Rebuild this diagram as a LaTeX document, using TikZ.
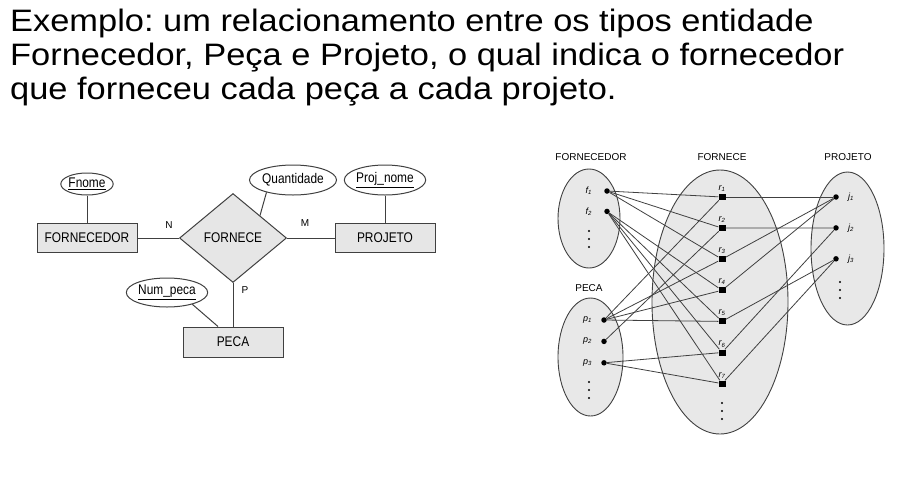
\documentclass[tikz,border=0pt]{standalone}
\usepackage{fontspec}
\setmainfont{Liberation Sans}
\newfontfamily\titlefont[FakeStretch=1.11]{Liberation Sans}
\newfontfamily\erfont[FakeStretch=0.85]{Liberation Sans}
\usepackage{tikz}
\usetikzlibrary{arrows.meta,positioning,shapes.geometric}
\definecolor{entfill}{HTML}{E6E6E6}
\definecolor{setfill}{HTML}{E8E8E8}
\definecolor{linegray}{HTML}{404040}
\frenchspacing

\begin{document}
\begin{tikzpicture}[x=1pt, y=-1pt,
  title/.style={anchor=base west, inner sep=0pt, font=\titlefont\fontsize{31}{34}\selectfont},
  ent/.style={draw=linegray, fill=entfill, line width=1pt, minimum width=100pt, minimum height=29pt, inner sep=0pt, font=\erfont\fontsize{14}{16}\selectfont},
  attr/.style={draw=linegray, fill=white, ellipse, line width=1pt, inner sep=0pt, font=\erfont\fontsize{14}{16}\selectfont},
  rel/.style={draw=linegray, fill=entfill, diamond, line width=1pt, minimum width=107pt, minimum height=89pt, inner sep=0pt, font=\erfont\fontsize{14}{16}\selectfont},
  card/.style={inner sep=0pt, font=\fontsize{10}{12}\selectfont},
  erline/.style={draw=linegray, line width=1pt},
  set/.style={draw=linegray, fill=setfill, ellipse, line width=0.9pt, inner sep=0pt},
  head/.style={inner sep=0pt, font=\fontsize{10}{12}\selectfont},
  elem/.style={circle, fill=black, inner sep=0pt, minimum size=5.5pt},
  inst/.style={rectangle, fill=black, inner sep=0pt, minimum width=7pt, minimum height=6pt},
  lbl/.style={inner sep=0pt, font=\itshape\fontsize{9}{10}\selectfont},
  lnk/.style={draw=linegray, line width=0.8pt}
]
  \useasboundingbox (0,0) rectangle (904,477);

  % title
  \node[title] (title1) at (10,31) {Exemplo: um relacionamento entre os tipos entidade};
  \node[title] (title2) at (10,65) {Fornecedor, Peça e Projeto, o qual indica o fornecedor};
  \node[title] (title3) at (10,99) {que forneceu cada peça a cada projeto.};

  % ER diagram
  \node[ent] (fornecedor) at (87,238) {FORNECEDOR};
  \node[rel] (fornece) at (233,238) {FORNECE};
  \node[ent] (projeto) at (385,238) {PROJETO};
  \node[ent, minimum height=30pt] (peca) at (233,342) {PECA};

  \node[attr, minimum width=42pt, minimum height=22pt] (fnome) at (87,184) {\underline{Fnome}};
  \node[attr, minimum width=81pt, minimum height=30pt] (quantidade) at (293,180) {Quantidade};
  \node[attr, minimum width=73pt, minimum height=30pt] (projnome) at (385,180) {\underline{Proj\_nome}};
  \node[attr, minimum width=78pt, minimum height=29pt] (numpeca) at (167,292.5) {\underline{Num\_peca}};

  \node[card] (cardN) at (169,225) {N};
  \node[card] (cardM) at (305,223) {M};
  \node[card] (cardP) at (245,290) {P};

  \draw[erline] (fnome) -- (fornecedor);
  \draw[erline] (fornecedor) -- (fornece);
  \draw[erline] (fornece) -- (projeto);
  \draw[erline] (projnome) -- (projeto);
  \draw[erline] (quantidade.205) -- (fornece.north east);
  \draw[erline] (fornece.south) -- (peca.north);
  \draw[erline] (numpeca.335) -- ([xshift=-15pt]peca.north);

  % instance sets
  \node[set, minimum width=62pt, minimum height=99pt] (setF) at (589,218.5) {};
  \node[set, minimum width=65pt, minimum height=118pt] (setP) at (590.5,357) {};
  \node[set, minimum width=136pt, minimum height=264pt] (setR) at (720,302) {};
  \node[set, minimum width=73pt, minimum height=153pt] (setJ) at (847.5,248.5) {};

  \node[head] (headF) at (591,157) {FORNECEDOR};
  \node[head] (headR) at (722,157) {FORNECE};
  \node[head] (headJ) at (848,157) {PROJETO};
  \node[head] (headP) at (589,288) {PECA};

  \node[elem] (f1) at (607,191) {};
  \node[elem, below=14.5pt of f1] (f2) {};
  \node[elem] (p1) at (604,320) {};
  \node[elem, below=15.5pt of p1] (p2) {};
  \node[elem, below=15.5pt of p2] (p3) {};
  \node[elem] (j1) at (836,197) {};
  \node[elem, below=25pt of j1] (j2) {};
  \node[elem, below=25pt of j2] (j3) {};

  \node[inst] (r1) at (722,197) {};
  \node[inst, below=24.7pt of r1] (r2) {};
  \node[inst, below=24.7pt of r2] (r3) {};
  \node[inst, below=24.7pt of r3] (r4) {};
  \node[inst, below=24.7pt of r4] (r5) {};
  \node[inst, below=24.7pt of r5] (r6) {};
  \node[inst, below=24.7pt of r6] (r7) {};

  \node[lbl, left=12pt of f1] (f1lbl) {f\textsubscript{1}};
  \node[lbl, left=12pt of f2] (f2lbl) {f\textsubscript{2}};
  \node[lbl, left=9pt of p1] (p1lbl) {p\textsubscript{1}};
  \node[lbl, left=9pt of p2] (p2lbl) {p\textsubscript{2}};
  \node[lbl, left=9pt of p3] (p3lbl) {p\textsubscript{3}};
  \node[lbl, right=9pt of j1] (j1lbl) {j\textsubscript{1}};
  \node[lbl, right=9pt of j2] (j2lbl) {j\textsubscript{2}};
  \node[lbl, right=9pt of j3] (j3lbl) {j\textsubscript{3}};
  \node[lbl, above=2pt of r1] (r1lbl) {r\textsubscript{1}};
  \node[lbl, above=2pt of r2] (r2lbl) {r\textsubscript{2}};
  \node[lbl, above=2pt of r3] (r3lbl) {r\textsubscript{3}};
  \node[lbl, above=2pt of r4] (r4lbl) {r\textsubscript{4}};
  \node[lbl, above=2pt of r5] (r5lbl) {r\textsubscript{5}};
  \node[lbl, above=2pt of r6] (r6lbl) {r\textsubscript{6}};
  \node[lbl, above=2pt of r7] (r7lbl) {r\textsubscript{7}};

  % vertical dots
  \foreach \cx/\cy in {589/231, 589/382, 722/403, 840/282}
    \foreach \k in {0,1,2}
      \fill (\cx,\cy+8*\k) circle (1.2pt);

  \draw[lnk] (f1) -- (r1);
  \draw[lnk] (f1) -- (r2);
  \draw[lnk] (f1) -- (r3);
  \draw[lnk] (f2) -- (r4);
  \draw[lnk] (f2) -- (r5);
  \draw[lnk] (f2) -- (r6);
  \draw[lnk] (f2) -- (r7);
  \draw[lnk] (p1) -- (r1);
  \draw[lnk] (p1) -- (r3);
  \draw[lnk] (p1) -- (r4);
  \draw[lnk] (p1) -- (r5);
  \draw[lnk] (p2) -- (r2);
  \draw[lnk] (p3) -- (r6);
  \draw[lnk] (p3) -- (r7);
  \draw[lnk] (r1) -- (j1);
  \draw[lnk] (r2) -- (j2);
  \draw[lnk] (r3) -- (j1);
  \draw[lnk] (r4) -- (j1);
  \draw[lnk] (r5) -- (j3);
  \draw[lnk] (r6) -- (j2);
  \draw[lnk] (r7) -- (j3);
\end{tikzpicture}
\end{document}
